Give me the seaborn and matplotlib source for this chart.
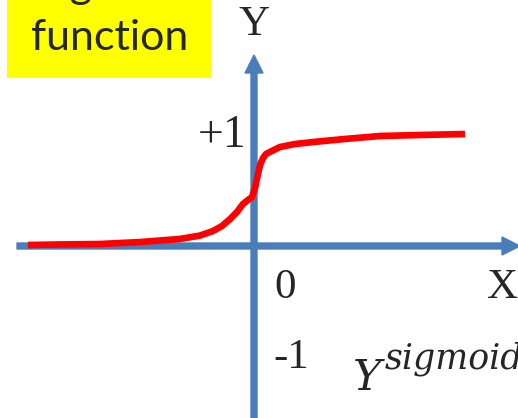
import matplotlib
matplotlib.use("Agg")
import matplotlib.pyplot as plt
import pandas as pd
import seaborn as sns

# --- Data --------------------------------------------------------------------
# Points (axis units, +1 = asymptote)
curve_x = [-2.055, -1.764, -1.4, -1.036, -0.673, -0.491, -0.373, -0.291,
           -0.218, -0.155, -0.1, -0.055, -0.018, 0.009, 0.036, 0.055, 0.082,
           0.109, 0.145, 0.236, 0.373, 0.536, 0.827, 1.145, 1.509, 1.918]
curve_y = [0.009, 0.014, 0.018, 0.036, 0.064, 0.095, 0.136, 0.182,
           0.245, 0.309, 0.382, 0.418, 0.445, 0.527, 0.655, 0.736, 0.8,
           0.836, 0.855, 0.9, 0.927, 0.945, 0.973, 1.0, 1.009, 1.018]

tick_labels = ["+1", "0", "-1"]
axis_labels = ["X", "Y"]
box_lines = ["Sigmoid", "function"]

AXIS_BLUE = "#4a7ebb"
SCALE = 110.0  # pixels per unit

# --- Figure --------------------------------------------------------------------
sns.set_theme(style="white")
fig = plt.figure(figsize=(5.18, 4.18), dpi=100)
ax = fig.add_axes([0, 0, 1, 1])

# Axes with arrow heads
ax.arrow(-237 / SCALE, 0, 503 / SCALE, 0, width=6 / SCALE,
         head_width=18 / SCALE, head_length=18 / SCALE,
         length_includes_head=True, color=AXIS_BLUE, zorder=2)
ax.arrow(0, -172 / SCALE, 0, (246 - 55 + 172) / SCALE, width=6 / SCALE,
         head_width=18 / SCALE, head_length=18 / SCALE,
         length_includes_head=True, color=AXIS_BLUE, zorder=2)

# Sigmoid curve
df = pd.DataFrame({"x": curve_x, "y": curve_y})
sns.lineplot(data=df, x="x", y="y", sort=False, color="red", linewidth=4.8,
             ax=ax, zorder=3, solid_capstyle="butt", solid_joinstyle="round")
ax.set_xlim(-254 / SCALE, (518 - 254) / SCALE)
ax.set_ylim((246 - 418) / SCALE, 246 / SCALE)
ax.axis("off")

# Labels
serif = "Liberation Serif"
ax.text(-7 / SCALE, 1.0, tick_labels[0], family=serif, fontsize=33,
        ha="right", va="center")
ax.text(31 / SCALE, -42 / SCALE, tick_labels[1], family=serif, fontsize=31,
        ha="center", va="center")
ax.text(37 / SCALE, -112 / SCALE, tick_labels[2], family=serif, fontsize=31,
        ha="center", va="center")
ax.text(249 / SCALE, -42 / SCALE, axis_labels[0], family=serif, fontsize=31,
        ha="center", va="center")
ax.text(0, 221 / SCALE, axis_labels[1], family=serif, fontsize=31,
        ha="center", va="center")

# Y^sigmoid label (runs off the right edge as in the original slide)
ax.text(99 / SCALE, -144 / SCALE, "Y", family="DejaVu Serif", style="italic",
        fontsize=31, ha="left", va="baseline")
ax.text(131 / SCALE, -122 / SCALE, "sigmoid", family="DejaVu Serif",
        style="italic", fontsize=25, ha="left", va="baseline")

# Yellow title box (top line cut off by the frame)
box = plt.Rectangle((7 / 518, 340 / 418), 204 / 518, 78 / 418,
                    transform=fig.transFigure, facecolor="#ffff00",
                    edgecolor="none", zorder=4)
fig.add_artist(box)
fig.text(110 / 518, 1 - 38 / 418, box_lines[1], family="Lato", fontsize=31,
         ha="center", va="center", zorder=5)
fig.text(112 / 518, 1 + 14 / 418, box_lines[0], family="Lato", fontsize=31,
         ha="center", va="center", zorder=5)

fig.savefig("out.png", dpi=100)
plt.close(fig)
